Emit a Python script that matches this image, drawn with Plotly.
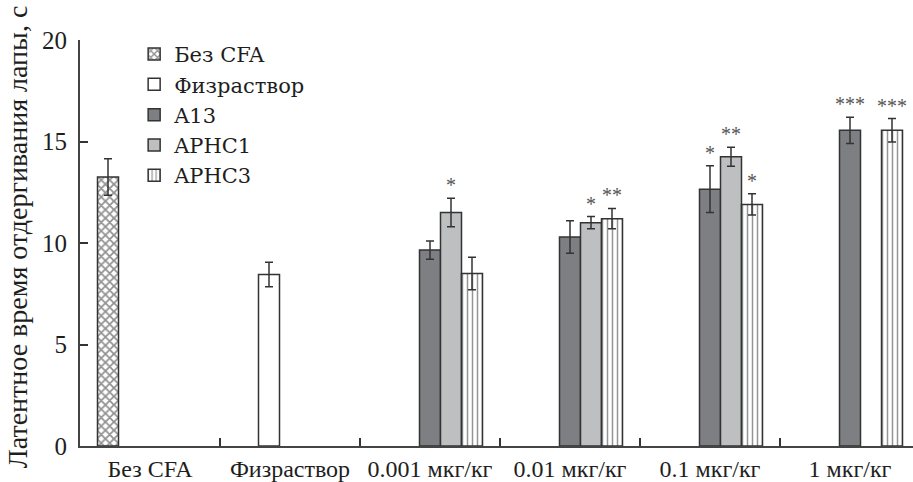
import plotly.graph_objects as go

categories = ["Без CFA", "Физраствор", "0.001 мкг/кг", "0.01 мкг/кг", "0.1 мкг/кг", "1 мкг/кг"]
series_names = ["Без CFA", "Физраствор", "A13", "APHC1", "APHC3"]

vals_noCFA = [13.25, None, None, None, None, None]
err_noCFA = [0.9, None, None, None, None, None]
vals_saline = [None, 8.45, None, None, None, None]
err_saline = [None, 0.6, None, None, None, None]
vals_A13 = [None, None, 9.65, 10.3, 12.65, 15.55]
err_A13 = [None, None, 0.45, 0.8, 1.15, 0.65]
vals_APHC1 = [None, None, 11.5, 11.0, 14.25, None]
err_APHC1 = [None, None, 0.7, 0.3, 0.47, None]
vals_APHC3 = [None, None, 8.5, 11.2, 11.9, 15.55]
err_APHC3 = [None, None, 0.8, 0.5, 0.52, 0.58]

stars_A13 = ["", "", "", "", "*", "***"]
stars_APHC1 = ["", "", "*", "*", "**", ""]
stars_APHC3 = ["", "", "", "**", "*", "***"]

y_ticks = [0, 5, 10, 15, 20]
y_title = "Латентное время отдергивания лапы, с"

FONT = "Liberation Serif, Times New Roman, serif"
LEG_FONT = "DejaVu Serif, serif"
LINE = "#333333"
TXT = "#1e1e1e"
BARGAP = 0.25

series = [
    (series_names[0], vals_noCFA, err_noCFA, dict(color="white", pattern=dict(shape="x", fgcolor="#222222", fillmode="overlay", size=6, solidity=0.5)), None),
    (series_names[1], vals_saline, err_saline, dict(color="white"), None),
    (series_names[2], vals_A13, err_A13, dict(color="#7e7f83"), stars_A13),
    (series_names[3], vals_APHC1, err_APHC1, dict(color="#bebfc1"), stars_APHC1),
    (series_names[4], vals_APHC3, err_APHC3, dict(color="white", pattern=dict(shape="|", fgcolor="#2a2a2a", fillmode="overlay", size=5, solidity=0.3)), stars_APHC3),
]

fig = go.Figure()
annotations = []
n = len(series)
slot = (1 - BARGAP) / n
for i, (name, vals, errs, marker, stars) in enumerate(series):
    marker = dict(marker)
    marker["line"] = dict(color=LINE, width=1.5)
    fig.add_trace(go.Bar(
        x=categories, y=vals, name=name, marker=marker,
        error_y=dict(type="data", array=errs, color=LINE, thickness=1.5, width=4),
    ))
    if stars:
        for j, s in enumerate(stars):
            if s:
                annotations.append(dict(
                    x=j + (i - (n - 1) / 2) * slot, y=vals[j] + errs[j],
                    xref="x", yref="y", text=s, showarrow=False,
                    yanchor="bottom", yshift=0,
                    font=dict(family=FONT, size=20, color="#555555"),
                ))

annotations.append(dict(
    x=-0.074, y=0.515, xref="paper", yref="paper", text=y_title, textangle=-90,
    showarrow=False, xanchor="center", yanchor="middle",
    font=dict(family=FONT, size=28, color=TXT),
))

fig.update_layout(
    width=913, height=482,
    margin=dict(l=80, r=0, t=40, b=34),
    plot_bgcolor="white", paper_bgcolor="white",
    barmode="group", bargap=BARGAP, bargroupgap=0,
    showlegend=True,
    legend=dict(x=0.065, y=1.015, xanchor="left", yanchor="top",
                font=dict(family=LEG_FONT, size=21, color=TXT),
                bgcolor="rgba(0,0,0,0)", tracegroupgap=0, itemclick=False),
    annotations=annotations,
    font=dict(family=FONT, color=TXT),
)
fig.update_xaxes(
    type="category", range=[-0.5, 5.45], tickson="boundaries",
    ticks="inside", ticklen=8, tickwidth=1.5, tickcolor=LINE,
    showline=True, linecolor="#444444", linewidth=2,
    showgrid=False, zeroline=False,
    tickfont=dict(family=FONT, size=24, color=TXT),
)
fig.update_yaxes(
    range=[0, 20], tickvals=y_ticks,
    ticks="inside", ticklen=8, tickwidth=1.5, tickcolor=LINE,
    showline=True, linecolor="#444444", linewidth=2,
    showgrid=False, zeroline=False, ticklabelstandoff=6,
    tickfont=dict(family=FONT, size=25, color=TXT),
)

fig.write_html("out.html")
